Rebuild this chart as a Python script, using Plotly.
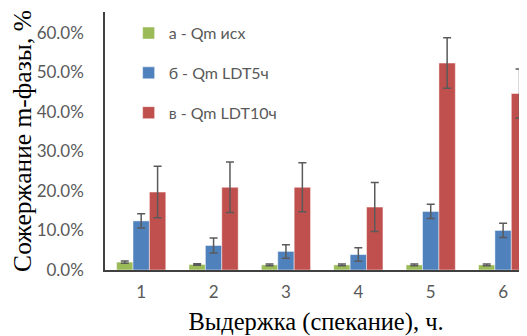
import plotly.graph_objects as go

categories = ["1", "2", "3", "4", "5", "6"]
names = ["а - Qm исх", "б - Qm LDT5ч", "в - Qm LDT10ч"]
vals_a = [0.020, 0.014, 0.013, 0.013, 0.013, 0.013]
err_a = [0.003, 0.002, 0.002, 0.002, 0.002, 0.002]
vals_b = [0.124, 0.062, 0.047, 0.039, 0.148, 0.100]
err_b = [0.018, 0.019, 0.017, 0.017, 0.018, 0.018]
vals_c = [0.197, 0.209, 0.209, 0.159, 0.523, 0.446]
err_c = [0.065, 0.064, 0.062, 0.062, 0.064, 0.062]
colors = ["#9BBB59", "#4F81BD", "#C0504D"]

fig = go.Figure()
for i, (v, e) in enumerate([(vals_a, err_a), (vals_b, err_b), (vals_c, err_c)]):
    fig.add_trace(go.Bar(
        x=categories, y=v, name=names[i], legendgroup=str(i),
        marker=dict(color=colors[i], line=dict(color="rgba(255,255,255,0.6)", width=0.8)),
        error_y=dict(type="data", array=e, visible=True, color="#5a5a5a", thickness=1.5, width=4),
    ))

# the page body has an 8px default margin, so the figure is offset by 8px
fig.update_layout(
    width=519, height=328,
    margin=dict(l=97, r=0, t=4, b=66),
    paper_bgcolor="white", plot_bgcolor="white",
    barmode="group", bargap=0.32, bargroupgap=0,
    showlegend=True,
    legend=dict(x=0.056, y=0.984, xanchor="left", yanchor="top",
                font=dict(family="Lato, Open Sans, sans-serif", size=16, color="#595959"),
                tracegroupgap=16, bgcolor="rgba(0,0,0,0)"),
    font=dict(family="Lato, Open Sans, sans-serif"),
)
fig.update_yaxes(
    range=[0, 0.652], dtick=0.1, tickformat=".1%", automargin=False,
    showline=True, linecolor="#404040", linewidth=1.5,
    showgrid=False, zeroline=False, ticks="",
    tickfont=dict(family="Lato, Open Sans, sans-serif", size=17, color="#595959"),
    ticklabelstandoff=16,
    title=dict(text="Сожержание m-фазы, %", standoff=2,
               font=dict(family="Liberation Serif, Times New Roman, serif", size=25.5, color="#000000")),
)
fig.update_xaxes(
    range=[-0.5, 5.33], automargin=False,
    showline=True, linecolor="#404040", linewidth=1.5,
    showgrid=False, zeroline=False, ticks="",
    tickfont=dict(family="Lato, Open Sans, sans-serif", size=17, color="#595959"),
    ticklabelstandoff=6,
    title=dict(text="Выдержка (спекание), ч.", standoff=14,
               font=dict(family="Liberation Serif, Times New Roman, serif", size=24.5, color="#000000")),
)

fig.write_html("out.html")
